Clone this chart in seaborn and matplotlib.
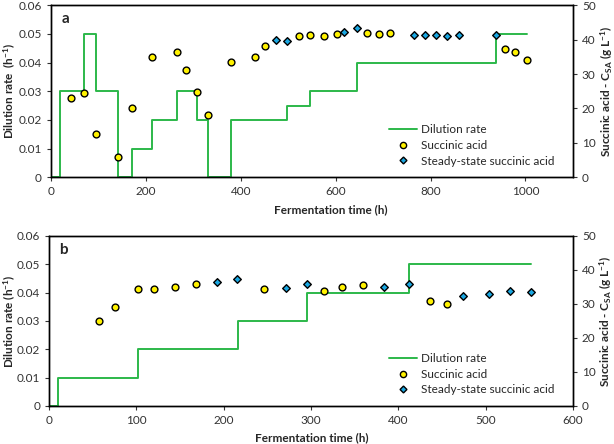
import matplotlib
matplotlib.use('Agg')
import matplotlib.pyplot as plt
import seaborn as sns
import pandas as pd
from matplotlib.lines import Line2D

# ---- data, panel a ----
a_step_t = [0, 20, 70, 95, 141, 171, 214, 265, 307, 332, 380, 498, 547, 646, 938, 1003]
a_step_d = [0, 0.03, 0.05, 0.03, 0, 0.01, 0.02, 0.03, 0.02, 0, 0.02, 0.025, 0.03, 0.04, 0.05, 0.05]

a_sa_t = [42, 70, 95, 141, 171, 214, 265, 284, 307, 331, 379, 431, 451, 523, 546,
          576, 602, 667, 691, 715, 956, 979, 1003]
a_sa_c = [22.9, 24.5, 12.7, 5.9, 20.1, 35.0, 36.4, 31.2, 24.7, 18.2, 33.6, 35.0, 38.3,
          41.1, 41.5, 41.0, 41.7, 42.0, 41.7, 41.9, 37.4, 36.3, 34.0]

a_ss_t = [475, 498, 618, 646, 765, 788, 812, 835, 861, 938]
a_ss_c = [39.8, 39.6, 42.3, 43.4, 41.5, 41.5, 41.5, 41.1, 41.5, 41.5]

# ---- data, panel b ----
b_step_t = [0, 10, 102, 216, 295, 412, 552]
b_step_d = [0, 0.01, 0.02, 0.03, 0.04, 0.05, 0.05]

b_sa_t = [57, 76, 102, 120, 144, 168, 246, 315, 335, 360, 436, 456]
b_sa_c = [24.9, 29.0, 34.4, 34.3, 35.1, 36.0, 34.5, 33.9, 34.9, 35.6, 30.8, 30.0]

b_ss_t = [192, 215, 271, 295, 384, 412, 474, 504, 528, 552]
b_ss_c = [36.6, 37.2, 34.7, 35.8, 35.1, 35.8, 32.4, 33.0, 33.7, 33.4]

sns.set_style('ticks')
plt.rcParams['font.family'] = ['Lato', 'DejaVu Sans']
plt.rcParams['mathtext.default'] = 'regular'

green = '#2cb84a'
yellow = '#fff200'
blue = '#1aa7e1'

fig = plt.figure(figsize=(6.14, 4.44), dpi=100)
ax_a = fig.add_axes([0.083, 0.601, 0.850, 0.387])
ax_b = fig.add_axes([0.080, 0.0856, 0.853, 0.383])


def draw_panel(ax, st, sd, sa_t, sa_c, ss_t, ss_c, xmax, letter, ylab, lx, rx, xl):
    steps = pd.DataFrame({'t': st, 'd': sd})
    sns.lineplot(data=steps, x='t', y='d', ax=ax, color=green, lw=1.4,
                 drawstyle='steps-post', legend=False)
    ax.set_xlim(0, xmax)
    ax.set_ylim(0, 0.06)
    ax.set_yticks([0, 0.01, 0.02, 0.03, 0.04, 0.05, 0.06])
    ax.set_yticklabels(['0', '0.01', '0.02', '0.03', '0.04', '0.05', '0.06'])
    ax.set_xlabel('Fermentation time (h)', fontsize=8.5, fontweight='bold')
    ax.xaxis.set_label_coords(*xl)
    ax.set_ylabel(ylab, fontsize=8.5, fontweight='bold')
    ax.yaxis.set_label_coords(lx, 0.5)
    ax.text(0.02, 0.92, letter, transform=ax.transAxes, fontsize=11,
            fontweight='bold', va='center')

    ax2 = ax.twinx()
    sns.scatterplot(x=sa_t, y=sa_c, ax=ax2, marker='o', s=24, color=yellow,
                    edgecolor='black', linewidth=1.0, zorder=3)
    sns.scatterplot(x=ss_t, y=ss_c, ax=ax2, marker='D', s=15, color=blue,
                    edgecolor='black', linewidth=1.0, zorder=3)
    ax2.set_ylim(0, 50)
    ax2.set_ylabel('Succinic acid - C$_{SA}$ (g L$^{-1}$)', fontsize=8.5,
                   fontweight='bold')
    ax2.yaxis.set_label_coords(rx, 0.5)
    for a in (ax, ax2):
        a.tick_params(labelsize=8.5, length=3, width=0.8, colors='#333333')
        for sp in a.spines.values():
            sp.set_color('black')
            sp.set_linewidth(1.0)

    handles = [
        Line2D([], [], color=green, lw=1.4),
        Line2D([], [], ls='', marker='o', ms=4.5, mfc=yellow, mec='black', mew=1.0),
        Line2D([], [], ls='', marker='D', ms=3.5, mfc=blue, mec='black', mew=1.0),
    ]
    ax2.legend(handles, ['Dilution rate', 'Succinic acid', 'Steady-state succinic acid'],
               loc='lower right', bbox_to_anchor=(0.985, 0.0), frameon=False,
               fontsize=8.5, handlelength=2.4, handletextpad=0.3, labelspacing=0.4)


draw_panel(ax_a, a_step_t, a_step_d, a_sa_t, a_sa_c, a_ss_t, a_ss_c, 1100, 'a',
           'Dilution rate  (h$^{-1}$)', -0.064, 1.049, (0.536, -0.16))
ax_a.set_xticks([0, 200, 400, 600, 800, 1000])
draw_panel(ax_b, b_step_t, b_step_d, b_sa_t, b_sa_c, b_ss_t, b_ss_c, 600, 'b',
           'Dilution rate (h$^{-1}$)', -0.060, 1.048, (0.502, -0.155))
ax_b.set_xticks([0, 100, 200, 300, 400, 500, 600])

fig.savefig('out.png', dpi=100)
